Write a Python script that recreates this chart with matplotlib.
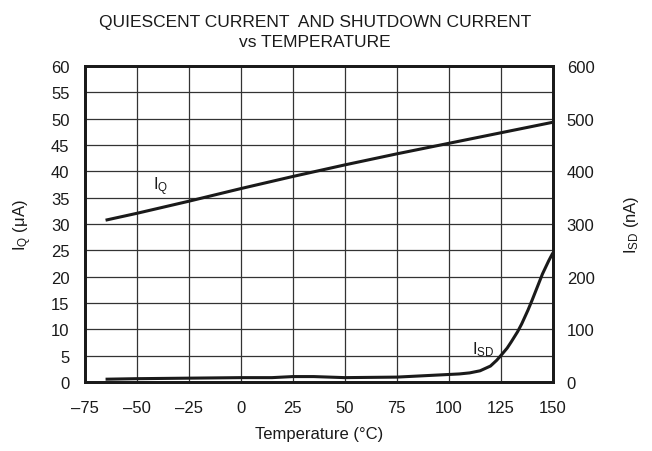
import matplotlib
matplotlib.use("Agg")
import matplotlib.pyplot as plt

plt.rcParams['font.family'] = ['Liberation Sans', 'DejaVu Sans']
plt.rcParams['mathtext.fontset'] = 'custom'
plt.rcParams['mathtext.rm'] = 'Liberation Sans'
plt.rcParams['mathtext.it'] = 'Liberation Sans'

temp_iq = [-65, -50, -25, 0, 25, 50, 75, 100, 125, 150]
iq_uA = [30.7, 32.0, 34.3, 36.7, 39.0, 41.2, 43.3, 45.3, 47.3, 49.3]

temp_isd = [-65, -50, -25, 0, 15, 25, 35, 50, 75, 90, 100, 105, 110, 115, 120, 123, 125, 128, 130, 133, 135, 138, 140, 143, 145, 148, 150]
isd_nA = [5, 6, 7, 8, 8, 10, 10, 8, 9, 12, 14, 15, 17, 21, 30, 41, 50, 64, 76, 95, 110, 136, 155, 185, 205, 230, 245]

xticks = [-75, -50, -25, 0, 25, 50, 75, 100, 125, 150]
yticks_left = list(range(0, 61, 5))
yticks_right = list(range(0, 601, 100))

fig = plt.figure(figsize=(6.52, 4.52), dpi=100)
ax = fig.add_axes([0.130, 0.153, 0.718, 0.699])
ax2 = ax.twinx()

ax.plot(temp_iq, iq_uA, color='#1a1a1a', lw=2.2, solid_capstyle='butt')
ax2.plot(temp_isd, isd_nA, color='#1a1a1a', lw=2.2, solid_capstyle='butt')

ax.set_xlim(-75, 150)
ax.set_ylim(0, 60)
ax2.set_ylim(0, 600)
ax.set_xticks(xticks)
ax.set_xticklabels([f"{t}".replace('-', '\u2013') for t in xticks])
ax.set_yticks(yticks_left)
ax2.set_yticks(yticks_right)
ax.grid(True, color='#333333', lw=0.9)
ax.set_axisbelow(True)
ax.tick_params(axis='x', length=0, labelsize=12, colors='#1a1a1a', pad=13)
ax.tick_params(axis='y', length=0, labelsize=12, colors='#1a1a1a', pad=11)
ax2.tick_params(axis='y', length=0, labelsize=12, colors='#1a1a1a', pad=10)
for a in (ax, ax2):
    for s in a.spines.values():
        s.set_linewidth(2.0)
        s.set_color('#1a1a1a')

ax.set_xlabel('Temperature (°C)', fontsize=12, color='#1a1a1a', labelpad=8)
ax.set_ylabel(r'I$_\mathrm{Q}$ ($\mu$A)', fontsize=12, color='#1a1a1a', labelpad=12)
ax2.set_ylabel(r'I$_\mathrm{SD}$ (nA)', fontsize=12, color='#1a1a1a', labelpad=20)

ax.text(-42, 36.5, r'I$_\mathrm{Q}$', fontsize=12, color='#1a1a1a')
ax.text(111, 5.4, r'I$_\mathrm{SD}$', fontsize=12, color='#1a1a1a')

fig.text(0.483, 0.928, 'QUIESCENT CURRENT  AND SHUTDOWN CURRENT\nvs TEMPERATURE',
         ha='center', va='center', fontsize=12.5, color='#1a1a1a', linespacing=1.35)

fig.savefig('out.png', dpi=100)
